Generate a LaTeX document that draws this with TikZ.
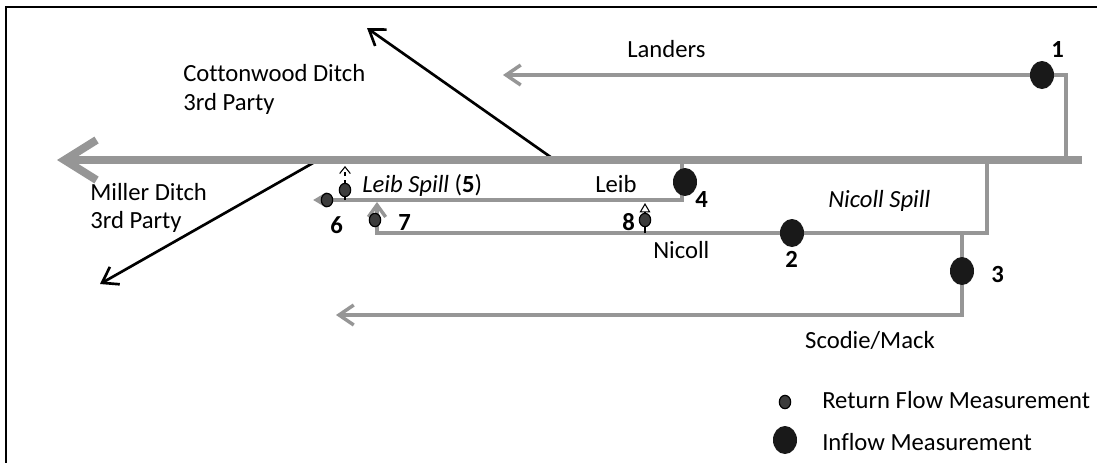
\documentclass[tikz,border=0pt]{standalone}
\usepackage{fontspec}
\setmainfont{Carlito}[Ligatures=NoCommon]
\usetikzlibrary{arrows.meta,shapes.geometric}
\definecolor{flow}{RGB}{150,150,150}
\definecolor{gaugefill}{RGB}{25,25,25}
\definecolor{retfill}{RGB}{60,60,60}
\tikzset{
  river/.style={draw=flow, line width=6pt, -{Straight Barb[length=24pt,width=30pt]}},
  channel/.style={draw=flow, line width=2.6pt, line join=miter},
  channelarrow/.style={channel, -{Straight Barb[length=11pt,width=15pt]}},
  ditch/.style={draw=black, line width=2pt, -{Straight Barb[length=11pt,width=15pt]}},
  inflow/.style={ellipse, fill=gaugefill, minimum width=18pt, minimum height=21pt, inner sep=0pt},
  retflow/.style={ellipse, fill=retfill, draw=black, line width=0.9pt, minimum width=8.5pt, minimum height=10pt, inner sep=0pt},
  lbl/.style={font=\fontsize{18.5}{22}\selectfont, inner sep=0pt, anchor=base west},
  num/.style={lbl, font=\fontsize{18.5}{22}\selectfont\bfseries},
}
\begin{document}
\begin{tikzpicture}[x=0.75pt,y=-0.75pt]
\useasboundingbox (0,0) rectangle (1097,462);
% frame
\draw[line width=1.5pt] (6,470) -- (6,7) -- (1105,7);

% junction points
\coordinate (rE) at (1082,160);
\coordinate (rW) at (57,160);
\coordinate (landTop) at (1066,75);
\coordinate (landRiver) at (1066,160);
\coordinate (landEnd) at (503,75);
\coordinate (leibRiver) at (682,160);
\coordinate (leibCorner) at (682,200);
\coordinate (leibEnd) at (313,200);
\coordinate (nicRiver) at (987,160);
\coordinate (nicCorner) at (987,233);
\coordinate (nicWest) at (377,233);
\coordinate (nicUp) at (377,202);
\coordinate (scoTop) at (962,233);
\coordinate (scoCorner) at (962,315);
\coordinate (scoEnd) at (336,315);
\coordinate (eightBase) at (645,233);
\coordinate (eightTop) at (645,203);
\coordinate (fiveBase) at (345,200);
\coordinate (fiveTop) at (345,166);
\coordinate (cwRiver) at (552,158);
\coordinate (cwEnd) at (367,28);
\coordinate (mlRiver) at (313,163);
\coordinate (mlEnd) at (100,284);

% third party ditches
\draw[ditch] (cwRiver) -- (cwEnd);
\draw[ditch] (mlRiver) -- (mlEnd);

% main stream
\draw[river] (rE) -- (rW);

% canals
\draw[channelarrow] (landRiver) -- (landTop) -- (landEnd);
\draw[channel, -{Triangle[length=10pt,width=11pt]}] (leibRiver) -- (leibCorner) -- (leibEnd);
\draw[channel, -{Straight Barb[length=9pt,width=13pt]}] (nicRiver) -- (nicCorner) -- (nicWest) -- (nicUp);
\draw[channelarrow] (scoTop) -- (scoCorner) -- (scoEnd);

% return flows
\draw[black, line width=0.8pt, -{Triangle[open, length=7pt, width=8pt]}] (eightBase) -- (eightTop);
\draw[black, line width=0.8pt, dashed, -{Straight Barb[length=5pt,width=8pt]}] (fiveBase) -- (fiveTop);

% gauges
\node[inflow] (g1) at (1042,75) {};
\node[inflow] (g2) at (792,233) {};
\node[inflow] (g3) at (962,271) {};
\node[inflow] (g4) at (685,182) {};
\node[retflow] (g5) at (345,190) {};
\node[retflow] (g6) at (327,200) {};
\node[retflow] (g7) at (375,220) {};
\node[retflow] (g8) at (645,220) {};

% gauge numbers
\node[num] (n1) at (1051,57) {1};
\node[num] (n2) at (785,267) {2};
\node[num] (n3) at (991,282) {3};
\node[num] (n4) at (695,207) {4};
\node[num] (n6) at (330,233) {6};
\node[num] (n7) at (398,230) {7};
\node[num] (n8) at (622,230) {8};

% names
\node[lbl] (tLanders) at (627,57) {Landers};
\node[lbl] (tCw1) at (183,81) {Cottonwood Ditch};
\node[lbl] (tCw2) at (183,110) {3rd Party};
\node[lbl] (tMl1) at (90,200) {Miller Ditch};
\node[lbl] (tMl2) at (90,228) {3rd Party};
\node[lbl] (tLeibSpill) at (362,192) {\textit{Leib Spill} (\textbf{5})};
\node[lbl] (tLeib) at (595,192) {Leib};
\node[lbl] (tNicSpill) at (828,207) {\textit{Nicoll Spill}};
\node[lbl] (tNicoll) at (653,258) {Nicoll};
\node[lbl, anchor=base east] (tScodie) at (935,348) {Scodie/Mack};

% legend
\node[retflow] (kRet) at (785,402) {};
\node[inflow] (kIn) at (785,440) {};
\node[lbl] (kRetT) at (822,408) {Return Flow Measurement};
\node[lbl] (kInT) at (822,450) {Inflow Measurement};
\end{tikzpicture}
\end{document}
